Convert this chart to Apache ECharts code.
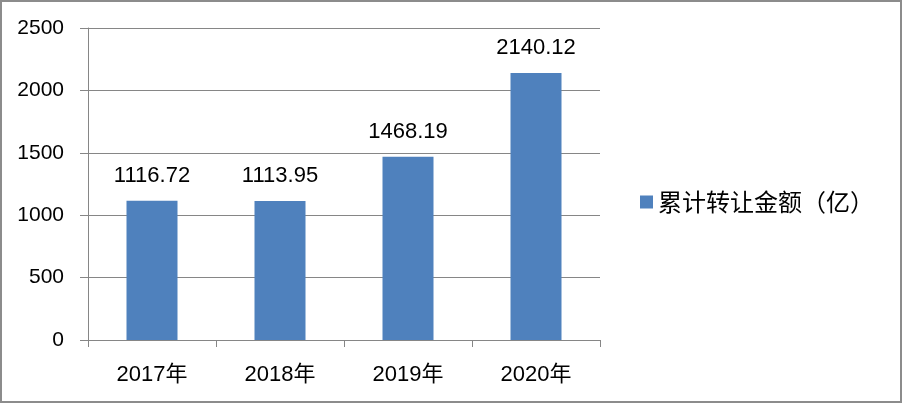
<!DOCTYPE html>
<html><head><meta charset="utf-8">
<script src="https://cdn.jsdelivr.net/npm/echarts@6/dist/echarts.min.js"></script>
<style>
html,body{margin:0;padding:0;background:#fff;}
#c{position:absolute;left:0;top:0;width:898px;height:399px;border:2px solid #8c8c8c;}
</style></head><body>
<div id="c"></div>
<script>
var categories = ['2017年','2018年','2019年','2020年'];
var values = [1116.72, 1113.95, 1468.19, 2140.12];
var seriesName = '累计转让金额（亿）';
var yTicks = [0, 500, 1000, 1500, 2000, 2500];

var chart = echarts.init(document.getElementById('c'));
var font = '"Liberation Sans","Noto Sans CJK SC",sans-serif';
chart.setOption({
  animation:false,
  textStyle:{fontFamily:font},
  grid:{left:86,right:300,top:26,bottom:61},
  legend:{
    orient:'vertical', left:633, top:183,
    itemWidth:13, itemHeight:13, itemGap:10,
    icon:'rect',
    textStyle:{fontSize:24,color:'#000',fontFamily:'"Noto Sans CJK SC",sans-serif'},
    data:[seriesName]
  },
  xAxis:{
    type:'category', data:categories,
    axisLine:{lineStyle:{color:'#868686',width:1}},
    axisTick:{show:true,length:7,lineStyle:{color:'#868686'},alignWithLabel:false},
    axisLabel:{fontSize:22,color:'#000',margin:24,fontFamily:font}
  },
  yAxis:{
    type:'value', min:yTicks[0], max:yTicks[yTicks.length-1], interval:500,
    axisLine:{show:true,lineStyle:{color:'#868686'}},
    axisTick:{show:true,length:8,lineStyle:{color:'#868686'}},
    splitLine:{lineStyle:{color:'#868686'}},
    axisLabel:{fontSize:21,color:'#000',margin:24,fontFamily:font,
      formatter:function(v){return String(v);}}
  },
  series:[{
    name:seriesName, type:'bar', data:values, barWidth:51,
    itemStyle:{color:'#4F81BD'},
    label:{show:true,position:'top',distance:14,fontSize:22,color:'#000',fontFamily:font,
      formatter:function(p){return p.value.toFixed(2);}}
  }]
});
</script>
</body></html>
